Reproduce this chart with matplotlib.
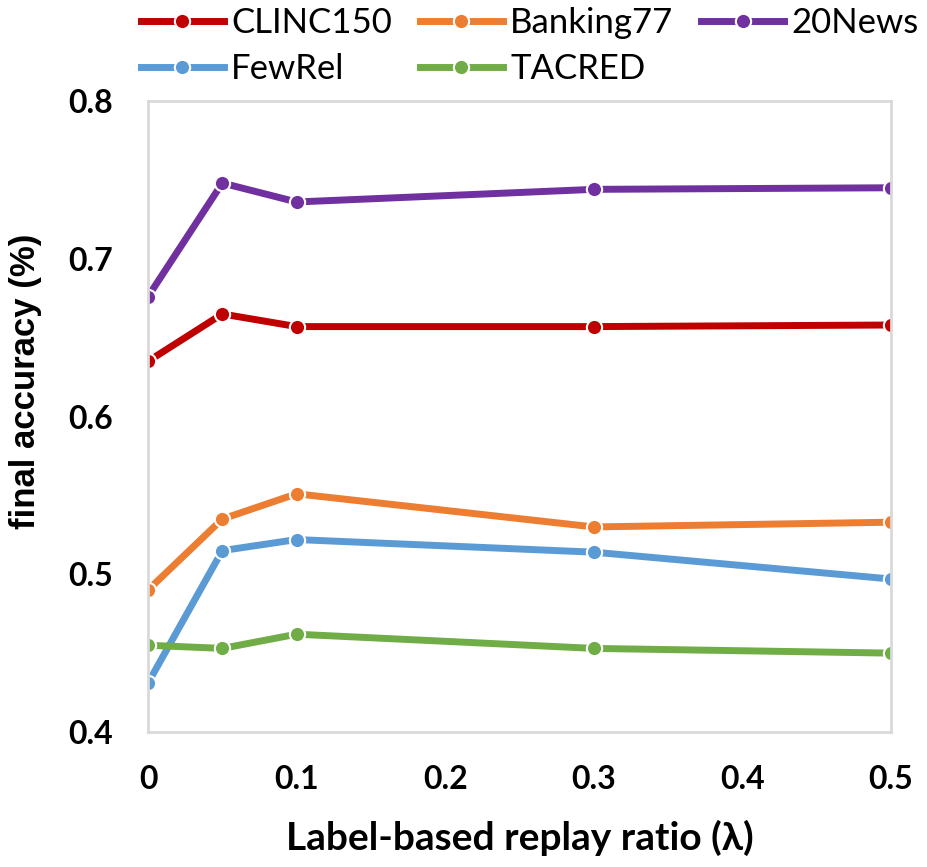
import matplotlib.pyplot as plt

ratios = [0, 0.05, 0.1, 0.3, 0.5]
clinc150 = [0.635, 0.665, 0.657, 0.657, 0.658]
banking77 = [0.490, 0.535, 0.551, 0.530, 0.533]
news20 = [0.676, 0.748, 0.736, 0.744, 0.745]
fewrel = [0.431, 0.515, 0.522, 0.514, 0.497]
tacred = [0.455, 0.453, 0.462, 0.453, 0.450]

series = [
    ("CLINC150", clinc150, "#c00000"),
    ("Banking77", banking77, "#ed7d31"),
    ("20News", news20, "#7030a0"),
    ("FewRel", fewrel, "#5b9bd5"),
    ("TACRED", tacred, "#70ad47"),
]

plt.rcParams["font.family"] = ["Lato", "DejaVu Sans"]

fig = plt.figure(figsize=(9.28, 8.67), dpi=100)
ax = fig.add_axes([0.1595, 0.1557, 0.8005, 0.7278])

lines = {}
for name, vals, color in series:
    lines[name], = ax.plot(ratios, vals, color=color, lw=5, marker="o", ms=11,
                           markeredgecolor="white", markeredgewidth=1.5, label=name)

ax.set_xlim(0, 0.5)
ax.set_ylim(0.4, 0.8)
ax.set_xticks([0, 0.1, 0.2, 0.3, 0.4, 0.5])
ax.set_xticklabels(["0", "0.1", "0.2", "0.3", "0.4", "0.5"])
ax.set_yticks([0.4, 0.5, 0.6, 0.7, 0.8])
ax.set_yticklabels(["0.4", "0.5", "0.6", "0.7", "0.8"])
ax.tick_params(length=0, labelsize=23)
ax.tick_params(axis="x", pad=24)
ax.tick_params(axis="y", pad=25)
for lbl in ax.get_xticklabels() + ax.get_yticklabels():
    lbl.set_fontweight("bold")
for sp in ax.spines.values():
    sp.set_color("#d9d9d9")
    sp.set_linewidth(2)

ax.set_xlabel("Label-based replay ratio (λ)", fontsize=28, fontweight="bold", labelpad=18)
ax.set_ylabel("final accuracy (%)", fontsize=25, fontweight="bold",
              family=["Liberation Sans", "DejaVu Sans"])
ax.yaxis.set_label_coords(-0.143, 0.555)

# row-major legend order: matplotlib fills columns first
order = ["CLINC150", "FewRel", "Banking77", "TACRED", "20News"]
fig.legend([lines[n] for n in order], order, loc="upper left",
           bbox_to_anchor=(0.148, 0.996), ncol=3, frameon=False,
           fontsize=25, handlelength=2.4, handletextpad=0.2, columnspacing=0.8,
           labelspacing=0.4, borderaxespad=0, borderpad=0.1)

fig.savefig("out.png", dpi=100)
